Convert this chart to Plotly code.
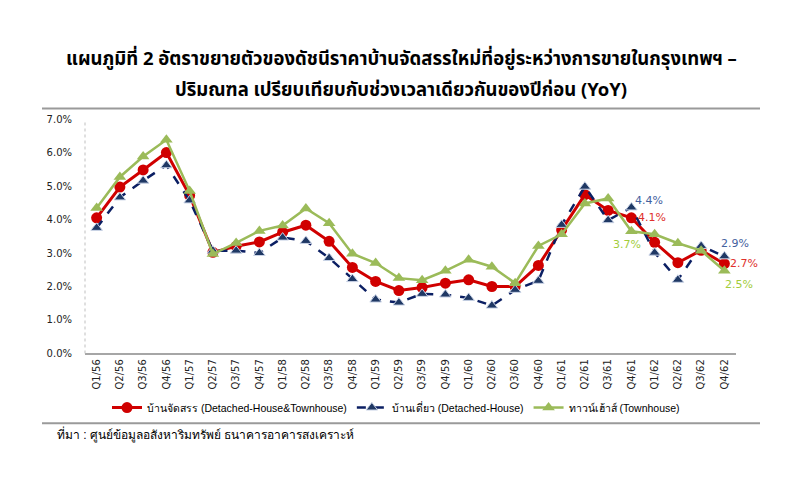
import plotly.graph_objects as go

quarters = ["Q1/56","Q2/56","Q3/56","Q4/56","Q1/57","Q2/57","Q3/57","Q4/57",
            "Q1/58","Q2/58","Q3/58","Q4/58","Q1/59","Q2/59","Q3/59","Q4/59",
            "Q1/60","Q2/60","Q3/60","Q4/60","Q1/61","Q2/61","Q3/61","Q4/61",
            "Q1/62","Q2/62","Q3/62","Q4/62"]

total = [4.05, 4.97, 5.48, 6.0, 4.72, 3.02, 3.2, 3.33,
         3.62, 3.83, 3.35, 2.57, 2.15, 1.88, 1.97, 2.1,
         2.2, 2.0, 2.0, 2.63, 3.69, 4.74, 4.27, 4.05,
         3.32, 2.71, 3.08, 2.68]
detached = [3.75, 4.66, 5.16, 5.62, 4.57, 3.07, 3.07, 3.0,
            3.46, 3.36, 2.85, 2.22, 1.61, 1.52, 1.78, 1.76,
            1.66, 1.43, 1.9, 2.17, 3.84, 4.98, 3.98, 4.36,
            3.01, 2.2, 3.21, 2.9]
townhouse = [4.34, 5.27, 5.88, 6.38, 4.85, 2.97, 3.3, 3.66,
             3.82, 4.33, 3.89, 2.98, 2.7, 2.25, 2.19, 2.47,
             2.8, 2.59, 2.1, 3.21, 3.56, 4.48, 4.63, 3.65,
             3.56, 3.29, 3.07, 2.47]

y_ticks = [0, 1, 2, 3, 4, 5, 6, 7]
y_tick_text = ["0.0%", "1.0%", "2.0%", "3.0%", "4.0%", "5.0%", "6.0%", "7.0%"]

names = ["บ้านจัดสรร (Detached-House&Townhouse)", "บ้านเดี่ยว (Detached-House)", "ทาวน์เฮ้าส์ (Townhouse)"]

# data labels: (series, quarter index, text)
labels = [
    ("detached", 23, "4.4%"), ("total", 23, "4.1%"), ("townhouse", 23, "3.7%"),
    ("detached", 27, "2.9%"), ("total", 27, "2.7%"), ("townhouse", 27, "2.5%"),
]

W, H = 800, 478
RED = "#D00000"
NAVY = "#0B1F63"
GREEN = "#9BBB59"

def px(xp):
    return xp / W

def py(yp):
    return 1 - yp / H

fig = go.Figure()
fig.add_trace(go.Scatter(
    x=quarters, y=total, name=names[0], mode="lines+markers",
    line=dict(color=RED, width=3),
    marker=dict(symbol="circle", size=11, color=RED)))
fig.add_trace(go.Scatter(
    x=quarters, y=detached, name=names[1], mode="lines+markers",
    line=dict(color=NAVY, width=2.5, dash="dash"),
    marker=dict(symbol="triangle-up", size=10, color="#1F3864",
                line=dict(color="#C9D3E6", width=1))))
fig.add_trace(go.Scatter(
    x=quarters, y=townhouse, name=names[2], mode="lines+markers",
    line=dict(color=GREEN, width=2.5),
    marker=dict(symbol="triangle-up", size=11, color=GREEN)))

# decorative separator lines on a full-canvas overlay axis (pixel coordinates)
for ysep in (106, 428):
    fig.add_trace(go.Scatter(
        x=[42, 760], y=[ysep, ysep], xaxis="x2", yaxis="y2", mode="lines",
        line=dict(color="#9A9A9A", width=2), showlegend=False, hoverinfo="skip"))

series = {"total": total, "detached": detached, "townhouse": townhouse}
label_colors = {"detached": "#44619E", "total": "#E0302C", "townhouse": "#A2CC3A"}
offsets = {
    ("detached", 23): (18, 7), ("total", 23): (21, 0), ("townhouse", 23): (-4, -13),
    ("detached", 27): (11, 13), ("total", 27): (20, 0), ("townhouse", 27): (15, -14),
}
for s, i, t in labels:
    dx, dy = offsets[(s, i)]
    fig.add_annotation(x=quarters[i], y=series[s][i], xref="x", yref="y",
                       text=t, showarrow=False, xshift=dx, yshift=dy,
                       font=dict(family="DejaVu Sans", size=11, color=label_colors[s]))

TITLE_FONT = "Tahoma, Noto Sans Thai, Liberation Sans, sans-serif"
title1 = "แผนภูมิที่ 2 อัตราขยายตัวของดัชนีราคาบ้านจัดสรรใหม่ที่อยู่ระหว่างการขายในกรุงเทพฯ –"
title2 = "ปริมณฑล เปรียบเทียบกับช่วงเวลาเดียวกันของปีก่อน (YoY)"
fig.add_annotation(text="<b>" + title1 + "</b>", xref="paper", yref="paper",
                   x=px(401), y=py(55), xanchor="center", yanchor="middle", showarrow=False,
                   font=dict(family=TITLE_FONT, size=18.5, color="#000"))
fig.add_annotation(text="<b>" + title2 + "</b>", xref="paper", yref="paper",
                   x=px(401), y=py(87), xanchor="center", yanchor="middle", showarrow=False,
                   font=dict(family=TITLE_FONT, size=18.5, color="#000"))
fig.add_annotation(text="ที่มา : ศูนย์ข้อมูลอสังหาริมทรัพย์ ธนาคารอาคารสงเคราะห์", xref="paper", yref="paper",
                   x=px(55), y=py(440), xanchor="left", yanchor="middle",
                   showarrow=False,
                   font=dict(family="Liberation Sans, sans-serif", size=12, color="#000"))

fig.update_layout(
    width=W, height=H,
    margin=dict(l=0, r=0, t=0, b=0),
    paper_bgcolor="white", plot_bgcolor="rgba(0,0,0,0)",
    showlegend=True,
    legend=dict(orientation="h", x=px(396), xanchor="center", y=py(412), yanchor="middle",
                font=dict(family="Liberation Sans, sans-serif", size=10.5, color="#000"),
                itemwidth=30, bgcolor="rgba(0,0,0,0)"),
    xaxis=dict(domain=[px(85), px(736)], anchor="y",
               type="category", range=[-0.5, 27.5], tickangle=-90,
               tickfont=dict(family="DejaVu Sans", size=10, color="#222"),
               showline=True, linecolor="#A6A6A6", linewidth=1.5,
               showgrid=False, zeroline=False, ticks="", fixedrange=True),
    yaxis=dict(domain=[py(356.7), py(116.7)], anchor="x",
               range=[0, 7], tickvals=y_ticks, ticktext=y_tick_text,
               tickfont=dict(family="DejaVu Sans", size=10, color="#222"),
               showgrid=False, zeroline=False, showline=False, ticks="",
               ticklabelstandoff=12, fixedrange=True),
    xaxis2=dict(domain=[0, 1], anchor="y2", range=[0, W], visible=False, fixedrange=True),
    yaxis2=dict(domain=[0, 1], anchor="x2", range=[H, 0], visible=False, fixedrange=True),
)

# dotted left axis line
fig.add_shape(type="line", xref="paper", yref="paper",
              x0=px(85), x1=px(85), y0=py(356.7), y1=py(118),
              line=dict(color="#BFBFBF", width=1, dash="dot"))

fig.write_html("out.html")
